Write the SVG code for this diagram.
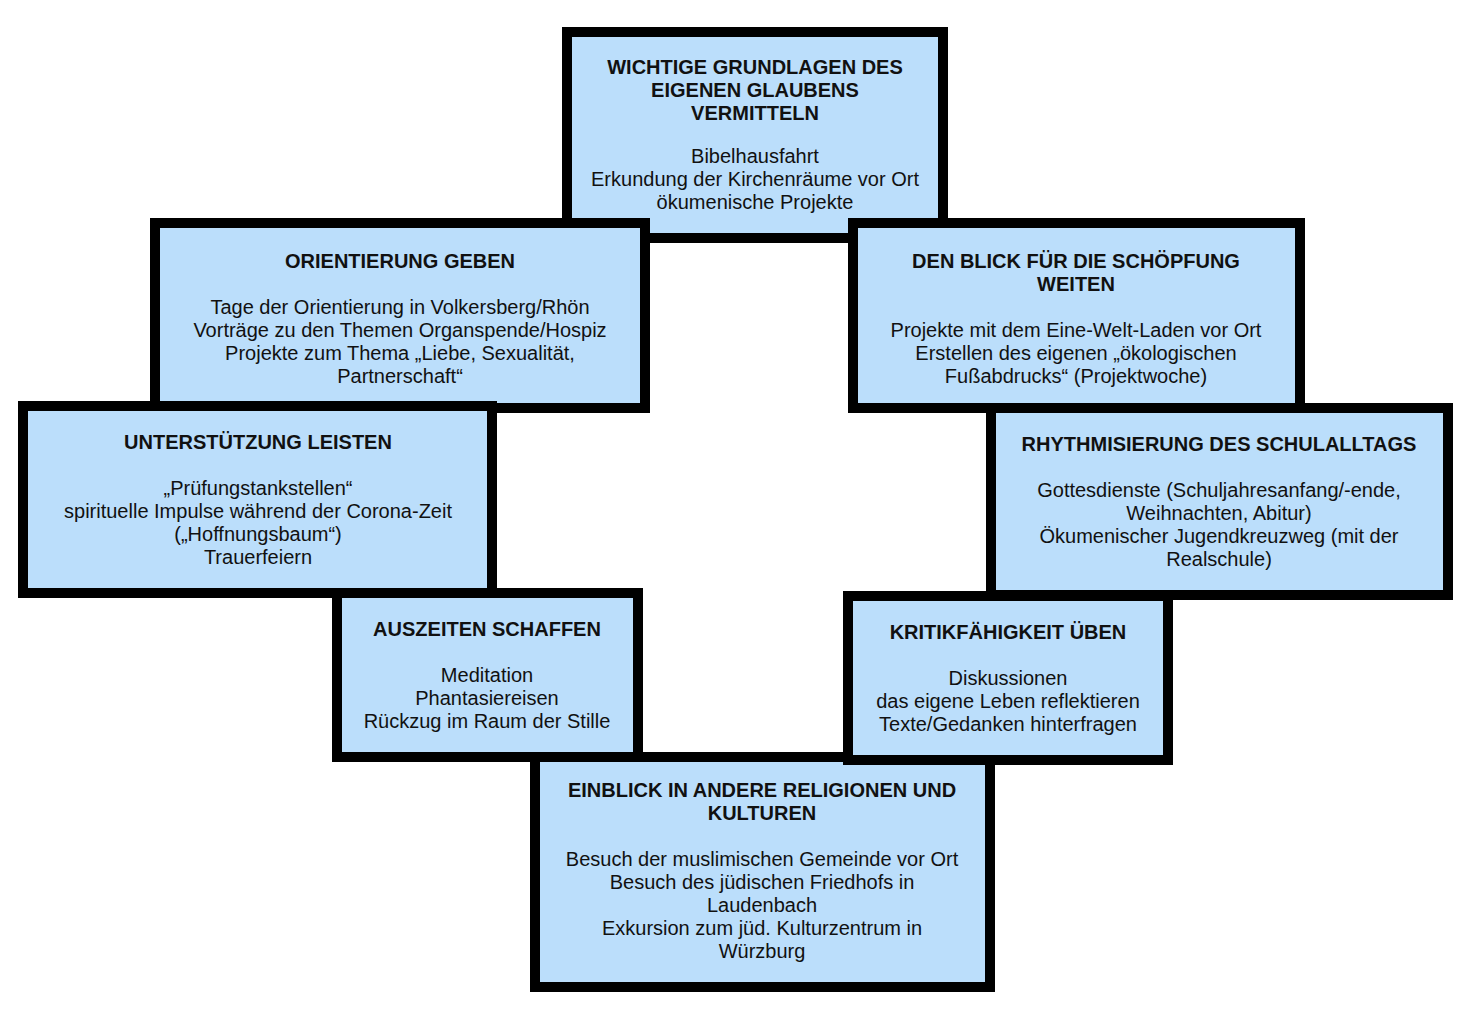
<svg xmlns="http://www.w3.org/2000/svg" width="1470" height="1018" viewBox="0 0 1470 1018">
<style>
.box{fill:#bbdefb;stroke:#000;stroke-width:10;stroke-linejoin:miter}
text{font-family:"Liberation Sans",Arial,Helvetica,sans-serif;font-size:20px;fill:#111;text-anchor:middle}
.t{font-weight:bold}
</style>
<rect x="0" y="0" width="1470" height="1018" fill="#fff"/>
<g id="connectors"></g>
<g id="n1">
<rect class="box" x="567" y="32" width="376" height="206"/>
<text x="755" class="t"><tspan x="755" y="74">WICHTIGE GRUNDLAGEN DES</tspan><tspan x="755" y="97">EIGENEN GLAUBENS</tspan><tspan x="755" y="120">VERMITTELN</tspan></text>
<text><tspan x="755" y="163">Bibelhausfahrt</tspan><tspan x="755" y="186">Erkundung der Kirchenräume vor Ort</tspan><tspan x="755" y="209">ökumenische Projekte</tspan></text>
</g>
<g id="n2">
<rect class="box" x="155" y="223" width="490" height="185"/>
<text class="t"><tspan x="400" y="268">ORIENTIERUNG GEBEN</tspan></text>
<text><tspan x="400" y="314">Tage der Orientierung in Volkersberg/Rhön</tspan><tspan x="400" y="337">Vorträge zu den Themen Organspende/Hospiz</tspan><tspan x="400" y="360">Projekte zum Thema „Liebe, Sexualität,</tspan><tspan x="400" y="383">Partnerschaft“</tspan></text>
</g>
<g id="n3">
<rect class="box" x="853" y="223" width="447" height="185"/>
<text class="t"><tspan x="1076" y="268">DEN BLICK FÜR DIE SCHÖPFUNG</tspan><tspan x="1076" y="291">WEITEN</tspan></text>
<text><tspan x="1076" y="337">Projekte mit dem Eine-Welt-Laden vor Ort</tspan><tspan x="1076" y="360">Erstellen des eigenen „ökologischen</tspan><tspan x="1076" y="383">Fußabdrucks“ (Projektwoche)</tspan></text>
</g>
<g id="n4">
<rect class="box" x="23" y="406" width="469" height="187"/>
<text class="t"><tspan x="258" y="449">UNTERSTÜTZUNG LEISTEN</tspan></text>
<text><tspan x="258" y="495">„Prüfungstankstellen“</tspan><tspan x="258" y="518">spirituelle Impulse während der Corona-Zeit</tspan><tspan x="258" y="541">(„Hoffnungsbaum“)</tspan><tspan x="258" y="564">Trauerfeiern</tspan></text>
</g>
<g id="n5">
<rect class="box" x="991" y="408" width="457" height="187"/>
<text class="t"><tspan x="1219" y="451">RHYTHMISIERUNG DES SCHULALLTAGS</tspan></text>
<text><tspan x="1219" y="497">Gottesdienste (Schuljahresanfang/-ende,</tspan><tspan x="1219" y="520">Weihnachten, Abitur)</tspan><tspan x="1219" y="543">Ökumenischer Jugendkreuzweg (mit der</tspan><tspan x="1219" y="566">Realschule)</tspan></text>
</g>
<g id="n8">
<rect class="box" x="535" y="757" width="455" height="230"/>
<text class="t"><tspan x="762" y="797">EINBLICK IN ANDERE RELIGIONEN UND</tspan><tspan x="762" y="820">KULTUREN</tspan></text>
<text><tspan x="762" y="866">Besuch der muslimischen Gemeinde vor Ort</tspan><tspan x="762" y="889">Besuch des jüdischen Friedhofs in</tspan><tspan x="762" y="912">Laudenbach</tspan><tspan x="762" y="935">Exkursion zum jüd. Kulturzentrum in</tspan><tspan x="762" y="958">Würzburg</tspan></text>
</g>
<g id="n6">
<rect class="box" x="337" y="593" width="301" height="164"/>
<text class="t"><tspan x="487" y="636">AUSZEITEN SCHAFFEN</tspan></text>
<text><tspan x="487" y="682">Meditation</tspan><tspan x="487" y="705">Phantasiereisen</tspan><tspan x="487" y="728">Rückzug im Raum der Stille</tspan></text>
</g>
<g id="n7">
<rect class="box" x="848" y="596" width="320" height="164"/>
<text class="t"><tspan x="1008" y="639">KRITIKFÄHIGKEIT ÜBEN</tspan></text>
<text><tspan x="1008" y="685">Diskussionen</tspan><tspan x="1008" y="708">das eigene Leben reflektieren</tspan><tspan x="1008" y="731">Texte/Gedanken hinterfragen</tspan></text>
</g>
</svg>
